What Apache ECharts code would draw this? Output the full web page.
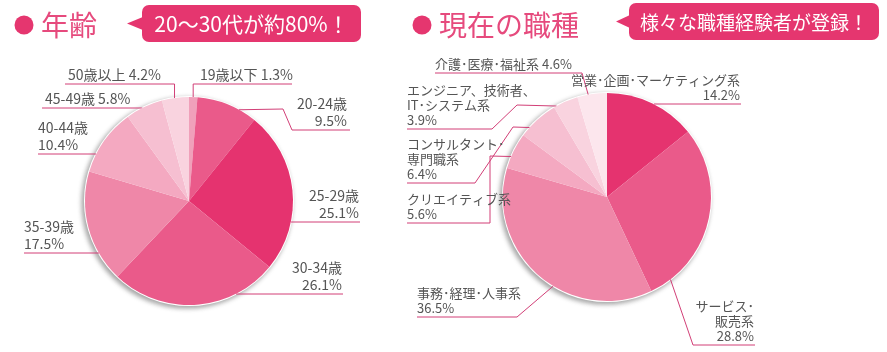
<!DOCTYPE html>
<html>
<head>
<meta charset="utf-8">
<script src="https://cdn.jsdelivr.net/npm/echarts@6/dist/echarts.min.js"></script>
<style>
html, body { margin: 0; background: #fff; }
#chart { width: 887px; height: 352px; }
</style>
</head>
<body>
<div id="chart"></div>
<script>
// 年齢
const ageNames = ['19歳以下', '20-24歳', '25-29歳', '30-34歳', '35-39歳', '40-44歳', '45-49歳', '50歳以上'];
const ageValues = [1.3, 9.5, 25.1, 26.1, 17.5, 10.4, 5.8, 4.2];
// 現在の職種
const jobNames = ['営業･企画･マーケティング系', 'サービス･\n販売系', '事務･経理･人事系', 'クリエイティブ系',
    'コンサルタント･\n専門職系', 'エンジニア、技術者、\nIT･システム系', '介護･医療･福祉系'];
const jobValues = [14.2, 28.8, 36.5, 5.6, 6.4, 3.9, 4.6];

const ageColors = ['#f0a0ba', '#ea5a8a', '#e5336f', '#ea5a8a', '#ef87a8', '#f4a9c1', '#f6bfd1', '#f9d3df'];
const jobColors = ['#e5336f', '#ea5a8a', '#ef87a8', '#f4a9c1', '#f6bfd1', '#f9d3df', '#fce6ed'];

const FONT = '"Noto Sans CJK JP", "Noto Sans", sans-serif';
const PINK = '#e5366f';
const LINE = '#d23f77';

const ageCenter = [189, 201];
const jobCenter = [607, 197];
const R = 104;

// label placement: attach angle on the pie, optional bends, underline y / ends, text anchor
const ageLabels = [
    { ang: 2.3, near: null, far: 292, y: 84, tx: 200, align: 'left', one: true },
    { ang: 28.7, via: [[283, 109]], near: 292, far: 350, y: 130, tx: 347, align: 'right' },
    { ang: 101.6, near: 291, far: 360, y: 222, tx: 359, align: 'right' },
    { ang: 153.2, near: 236, far: 343, y: 294, tx: 342, align: 'right' },
    { ang: 240, near: 99, far: 24, y: 253, tx: 24, align: 'left' },
    { ang: 296.8, near: 96, far: 38, y: 154, tx: 38, align: 'left' },
    { ang: 333.4, near: 142, far: 42, y: 108, tx: 45, align: 'left', one: true },
    { ang: 352, near: null, far: 65, y: 84, tx: 68, align: 'left', one: true }
];
const jobLabels = [
    { ang: 26.8, near: 654, far: 741, y: 104, tx: 740, align: 'right' },
    { ang: 142.4, near: 693, far: 755, y: 345, tx: 754, align: 'right' },
    { ang: 211.1, near: 517, far: 417, y: 317, tx: 417, align: 'left' },
    { ang: 292.9, via: [[490, 156]], near: 490, far: 407, y: 223, tx: 407, align: 'left' },
    { ang: 311.9, via: [[513, 127]], near: 475, far: 407, y: 183, tx: 407, align: 'left' },
    { ang: 331, via: [[517, 105]], near: 492, far: 407, y: 129, tx: 407, align: 'left' },
    { ang: 349.6, near: 582, far: 435, y: 73, tx: 435, align: 'left', one: true }
];

function makeLayout(center, specs) {
    return function (p) {
        const s = specs[p.dataIndex];
        const a = s.ang * Math.PI / 180;
        const edge = [center[0] + R * Math.sin(a), center[1] - R * Math.cos(a)];
        const near = s.near == null ? edge[0] : s.near;
        const pts = [edge].concat(s.via || [], [[near, s.y], [s.far, s.y]]);
        return {
            x: s.tx,
            y: s.y - 1,
            align: s.align,
            verticalAlign: 'bottom',
            hideOverlap: false,
            moveOverlap: false,
            labelLinePoints: pts
        };
    };
}

function makeSeries(names, values, colors, center, specs, fontSize, lineHeight) {
    return {
        type: 'pie',
        center: center,
        radius: R,
        startAngle: 90,
        clockwise: true,
        avoidLabelOverlap: false,
        z: 3,
        emphasis: { disabled: true },
        data: names.map((n, i) => ({ name: n, value: values[i], itemStyle: { color: colors[i] } })),
        label: {
            show: true,
            position: 'outside',
            color: '#555',
            fontSize: fontSize,
            lineHeight: lineHeight,
            fontFamily: FONT,
            formatter: p => p.name + (specs[p.dataIndex].one ? ' ' : '\n') + p.value + '%'
        },
        labelLine: {
            show: true,
            smooth: false,
            lineStyle: { color: LINE, width: 1 }
        },
        labelLayout: makeLayout(center, specs)
    };
}

function callout(x, y, w, h, tip, text, size) {
    return {
        type: 'group',
        children: [
            {
                type: 'polygon',
                shape: { points: [[tip, y + h / 2], [x + 2, y + h / 2 - 7], [x + 2, y + h / 2 + 7]] },
                style: { fill: PINK }
            },
            {
                type: 'rect',
                shape: { x: x, y: y, width: w, height: h, r: 7 },
                style: { fill: PINK }
            },
            {
                type: 'text',
                x: x + w / 2,
                y: y + h / 2 + 1,
                style: {
                    text: text, fill: '#fff', fontSize: size, fontFamily: FONT,
                    align: 'center', verticalAlign: 'middle'
                }
            }
        ]
    };
}

function title(cx, text) {
    return {
        type: 'group',
        children: [
            { type: 'circle', shape: { cx: cx, cy: 25, r: 9.5 }, style: { fill: PINK } },
            {
                type: 'text',
                x: cx + 17,
                y: 25,
                style: {
                    text: text, fill: '#e64a7d', fontSize: 28, fontFamily: FONT,
                    align: 'left', verticalAlign: 'middle'
                }
            }
        ]
    };
}

function pieBack(center) {
    return {
        type: 'circle',
        z: 0,
        shape: { cx: center[0], cy: center[1], r: R },
        style: {
            fill: '#fff', stroke: '#fff', lineWidth: 2,
            shadowBlur: 5, shadowOffsetX: -2, shadowOffsetY: 2, shadowColor: 'rgba(0,0,0,0.35)'
        }
    };
}

const chart = echarts.init(document.getElementById('chart'));
chart.setOption({
    animation: false,
    backgroundColor: '#fff',
    graphic: [
        pieBack(ageCenter),
        pieBack(jobCenter),
        title(24, '年齢'),
        title(422, '現在の職種'),
        callout(142, 5, 219, 37, 127, '20～30代が約80%！', 21),
        callout(629, 3, 250, 37, 616, '様々な職種経験者が登録！', 19)
    ],
    series: [
        makeSeries(ageNames, ageValues, ageColors, ageCenter, ageLabels, 14, 17),
        makeSeries(jobNames, jobValues, jobColors, jobCenter, jobLabels, 13, 15)
    ]
});
</script>
</body>
</html>
